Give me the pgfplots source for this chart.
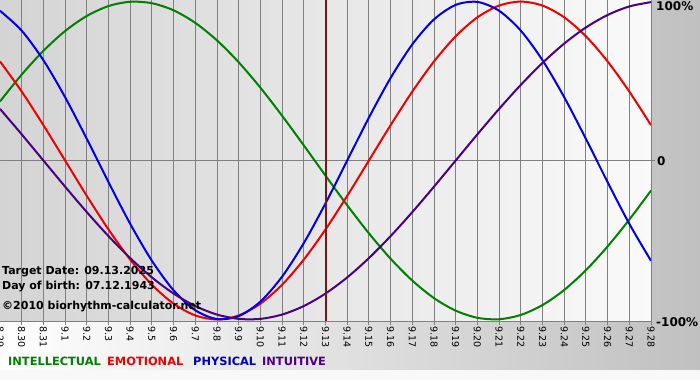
\documentclass[border=0pt]{standalone}
\usepackage{fontspec}
\setmainfont{DejaVu Sans}
\usepackage{pgfplots}
\pgfplotsset{compat=1.18}
\definecolor{cInt}{RGB}{0,128,0}
\definecolor{cEmo}{RGB}{240,0,0}
\definecolor{cPhy}{RGB}{0,0,235}
\definecolor{cItu}{RGB}{75,0,130}
\definecolor{cTarget}{RGB}{128,20,20}
\definecolor{gridc}{RGB}{128,128,128}
\definecolor{bgR}{RGB}{192,192,192}
\definecolor{bgStrip}{RGB}{248,248,248}
\definecolor{paL}{RGB}{212,212,212}
\definecolor{paR}{RGB}{250,250,250}
\begin{document}
\begin{tikzpicture}
\shade[left color=white, right color=bgR] (0pt,10pt) rectangle (700pt,380pt);
\fill[bgStrip] (0pt,0pt) rectangle (700pt,10pt);
\shade[left color=paL, right color=paR] (0pt,59pt) rectangle (651pt,380pt);
\begin{axis}[
  at={(0pt,59pt)}, anchor=south west, scale only axis,
  width=651pt, height=321pt,
  xmin=0, xmax=30, ymin=-1.01, ymax=1.01,
  axis x line*=bottom, axis y line*=right,
  axis line style={gridc, line width=1pt},
  xtick={0,...,30},
  xticklabels={8.29,8.30,8.31,9.1,9.2,9.3,9.4,9.5,9.6,9.7,9.8,9.9,9.10,9.11,9.12,9.13,9.14,9.15,9.16,9.17,9.18,9.19,9.20,9.21,9.22,9.23,9.24,9.25,9.26,9.27,9.28},
  x tick label style={rotate=-90, anchor=west, font=\fontsize{9.5}{10}\selectfont, inner sep=1pt},
  ytick={0}, yticklabels={},
  xmajorgrids, ymajorgrids,
  major grid style={gridc, line width=1pt},
  tick style={gridc, line width=1pt},
  major tick length=4pt, tick align=outside,
]
\addplot[smooth, line width=2pt, cInt] coordinates {
(0,0.3717)(1,0.5406)(2,0.6901)(3,0.8146)(4,0.9096)(5,0.9718)(6,0.9989)(7,0.9898)(8,0.9450)(9,0.8660)(10,0.7557)(11,0.6182)(12,0.4582)(13,0.2817)(14,0.0951)(15,-0.0951)(16,-0.2817)(17,-0.4582)(18,-0.6182)(19,-0.7557)(20,-0.8660)(21,-0.9450)(22,-0.9898)(23,-0.9989)(24,-0.9718)(25,-0.9096)(26,-0.8146)(27,-0.6901)(28,-0.5406)(29,-0.3717)(30,-0.1893)};
\addplot[smooth, line width=2pt, cEmo] coordinates {
(0,0.6235)(1,0.4339)(2,0.2225)(3,0)(4,-0.2225)(5,-0.4339)(6,-0.6235)(7,-0.7818)(8,-0.9010)(9,-0.9749)(10,-1)(11,-0.9749)(12,-0.9010)(13,-0.7818)(14,-0.6235)(15,-0.4339)(16,-0.2225)(17,0)(18,0.2225)(19,0.4339)(20,0.6235)(21,0.7818)(22,0.9010)(23,0.9749)(24,1)(25,0.9749)(26,0.9010)(27,0.7818)(28,0.6235)(29,0.4339)(30,0.2225)};
\addplot[smooth, line width=2pt, cPhy] coordinates {
(0,0.9423)(1,0.8170)(2,0.6311)(3,0.3984)(4,0.1362)(5,-0.1362)(6,-0.3984)(7,-0.6311)(8,-0.8170)(9,-0.9423)(10,-0.9977)(11,-0.9791)(12,-0.8879)(13,-0.7308)(14,-0.5196)(15,-0.2698)(16,0)(17,0.2698)(18,0.5196)(19,0.7308)(20,0.8879)(21,0.9791)(22,0.9977)(23,0.9423)(24,0.8170)(25,0.6311)(26,0.3984)(27,0.1362)(28,-0.1362)(29,-0.3984)(30,-0.6311)};
\addplot[smooth, line width=2pt, cItu] coordinates {
(0,0.3247)(1,0.1646)(2,0)(3,-0.1646)(4,-0.3247)(5,-0.4759)(6,-0.6142)(7,-0.7357)(8,-0.8372)(9,-0.9158)(10,-0.9694)(11,-0.9966)(12,-0.9966)(13,-0.9694)(14,-0.9158)(15,-0.8372)(16,-0.7357)(17,-0.6142)(18,-0.4759)(19,-0.3247)(20,-0.1646)(21,0)(22,0.1646)(23,0.3247)(24,0.4759)(25,0.6142)(26,0.7357)(27,0.8372)(28,0.9158)(29,0.9694)(30,0.9966)};
\addplot[line width=2pt, cTarget] coordinates {(15,-1.01)(15,1.01)};
\end{axis}
\begin{scope}[every node/.style={inner sep=0pt, anchor=west}]
\node[font=\bfseries\fontsize{11}{13}\selectfont] at (2pt,108pt) {Target Date: 09.13.2025};
\node[font=\bfseries\fontsize{11}{13}\selectfont] at (2pt,93.5pt) {Day of birth: 07.12.1943};
\node[font=\bfseries\fontsize{11}{13}\selectfont] at (2pt,73.5pt) {©2010 biorhythm-calculator.net};
\node[font=\bfseries\fontsize{12}{14}\selectfont] at (656pt,374pt) {100\%};
\node[font=\bfseries\fontsize{12}{14}\selectfont] at (657pt,219pt) {0};
\node[font=\bfseries\fontsize{12}{14}\selectfont] at (656pt,58pt) {-100\%};
\node[font=\bfseries\fontsize{11.4}{13}\selectfont, text=cInt] at (8pt,19pt) {INTELLECTUAL};
\node[font=\bfseries\fontsize{11.4}{13}\selectfont, text=cEmo] at (107pt,19pt) {EMOTIONAL};
\node[font=\bfseries\fontsize{11.4}{13}\selectfont, text=cPhy!80!black] at (193pt,19pt) {PHYSICAL};
\node[font=\bfseries\fontsize{11.4}{13}\selectfont, text=cItu] at (262pt,19pt) {INTUITIVE};
\end{scope}
\pgfresetboundingbox
\useasboundingbox (0pt,0pt) rectangle (700pt,380pt);
\end{tikzpicture}
\end{document}
